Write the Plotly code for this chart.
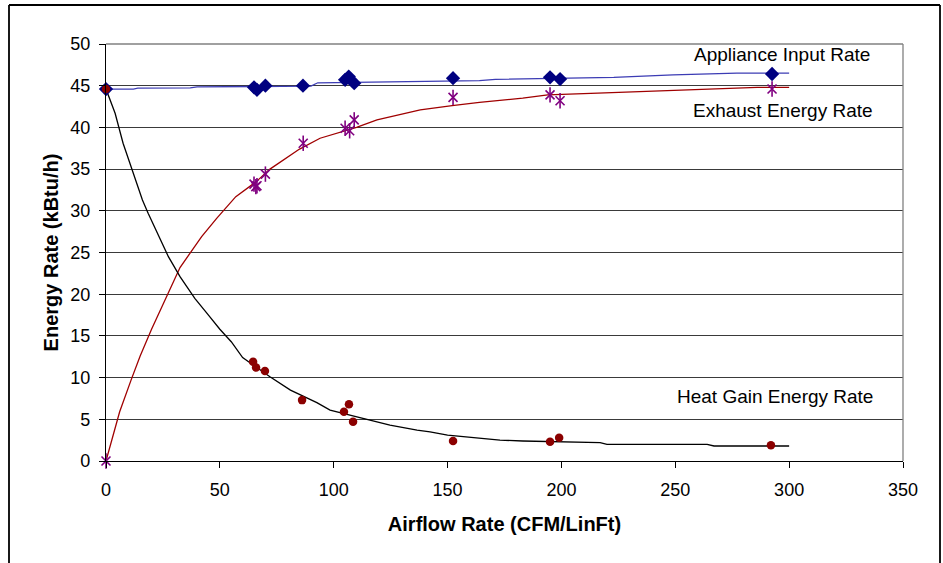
import plotly.graph_objects as go

# ---- measured points ----
app_x = [0, 65.0, 66.3, 70.0, 86.5, 105.0, 106.6, 109.0, 152.4, 195.0, 199.4, 292.5]
app_y = [44.6, 44.8, 44.5, 45.0, 45.0, 45.7, 46.1, 45.3, 45.9, 46.0, 45.8, 46.4]

exh_x = [0, 65.0, 65.8, 66.3, 70.0, 86.6, 105.0, 107.0, 109.0, 152.4, 195.0, 199.4, 292.5]
exh_y = [0.0, 33.2, 32.9, 33.0, 34.4, 38.1, 39.9, 39.6, 40.9, 43.6, 43.9, 43.2, 44.6]

heat_x = [0, 64.6, 65.9, 69.8, 86.1, 104.5, 106.7, 108.5, 152.4, 195.0, 199.0, 292.0]
heat_y = [44.6, 11.9, 11.2, 10.8, 7.3, 5.9, 6.8, 4.7, 2.4, 2.3, 2.8, 1.9]

# ---- fitted curves ----
app_fit_x = [0, 12, 14, 37, 40, 90, 93, 119, 164, 171, 223, 249, 277, 300]
app_fit_y = [44.6, 44.6, 44.7, 44.75, 44.85, 44.95, 45.35, 45.45, 45.6, 45.75, 46.0, 46.3, 46.5, 46.5]

exh_fit_x = [0, 6, 11, 15, 20, 26, 32.5, 42, 48.6, 57, 66, 72, 85, 94, 110, 119, 138, 152, 164, 183, 194, 216, 246, 264, 286, 300]
exh_fit_y = [0.0, 5.9, 9.7, 12.6, 15.8, 19.3, 23.2, 26.9, 29.1, 31.7, 33.5, 35.0, 37.4, 38.7, 40.0, 40.9, 42.1, 42.6, 43.0, 43.5, 43.9, 44.1, 44.4, 44.6, 44.8, 44.8]

heat_fit_x = [0, 4, 7.5, 12, 16, 18.5, 27.4, 32.5, 39, 45, 50, 55, 60, 72, 81, 92.6, 98.4, 111.5, 124.7, 136.6, 142.3, 150, 160, 173, 183, 217, 220, 264, 267, 300]
heat_fit_y = [44.6, 41.7, 38.1, 34.4, 31.3, 29.7, 24.5, 22.1, 19.5, 17.5, 15.8, 14.3, 12.4, 10.1, 8.5, 7.0, 6.1, 5.2, 4.3, 3.7, 3.5, 3.1, 2.8, 2.5, 2.4, 2.2, 2.0, 2.0, 1.8, 1.8]

labels = ["Appliance Input Rate", "Exhaust Energy Rate", "Heat Gain Energy Rate"]
label_x = [296.9, 297.3, 293.8]
label_y = [48.8, 42.0, 7.7]

FONT = "Liberation Sans, Arial, sans-serif"

fig = go.Figure()
fig.add_trace(go.Scatter(x=app_fit_x, y=app_fit_y, mode="lines",
                         line=dict(color="#3c3cb4", width=1.3), hoverinfo="skip"))
fig.add_trace(go.Scatter(x=exh_fit_x, y=exh_fit_y, mode="lines",
                         line=dict(color="#a00000", width=1.3), hoverinfo="skip"))
fig.add_trace(go.Scatter(x=heat_fit_x, y=heat_fit_y, mode="lines",
                         line=dict(color="#000000", width=1.3), hoverinfo="skip"))
fig.add_trace(go.Scatter(x=app_x, y=app_y, mode="markers", name="Appliance Input Rate",
                         cliponaxis=False,
                         marker=dict(symbol="diamond", size=11, color="#000080")))
fig.add_trace(go.Scatter(x=exh_x, y=exh_y, mode="markers", name="Exhaust Energy Rate",
                         cliponaxis=False,
                         marker=dict(symbol="x-thin-open", size=9, color="#800080",
                                     line=dict(color="#800080", width=1.6))))
fig.add_trace(go.Scatter(x=exh_x, y=exh_y, mode="markers", showlegend=False,
                         cliponaxis=False,
                         marker=dict(symbol="line-ns-open", size=11, color="#800080",
                                     line=dict(color="#800080", width=1.6))))
fig.add_trace(go.Scatter(x=heat_x, y=heat_y, mode="markers", name="Heat Gain Energy Rate",
                         cliponaxis=False,
                         marker=dict(symbol="circle", size=8.5, color="#8b0000")))

for t, xx, yy in zip(labels, label_x, label_y):
    fig.add_annotation(x=xx, y=yy, text=t, showarrow=False,
                       font=dict(family=FONT, size=19, color="#000000"),
                       xanchor="center", yanchor="middle")

# plot-area top/right border (gray)
fig.add_shape(type="line", xref="paper", yref="paper", x0=0, x1=1, y0=1, y1=1,
              line=dict(color="#808080", width=1.3))
fig.add_shape(type="line", xref="paper", yref="paper", x0=1, x1=1, y0=0, y1=1,
              line=dict(color="#808080", width=1.3))
# outer chart frame (cut at the bottom)
L, T, R, B = 106, 44, 903, 461
def px(xp):
    return (xp - L) / (R - L)
def py(yp):
    return (B - yp) / (B - T)
for x0, y0, x1, y1 in [(9, 5, 940, 5), (9, 5, 9, 570), (940, 5, 940, 570)]:
    fig.add_shape(type="line", xref="paper", yref="paper",
                  x0=px(x0), y0=py(y0), x1=px(x1), y1=py(y1),
                  line=dict(color="#000000", width=1.8))

fig.update_layout(
    width=943, height=563,
    margin=dict(l=L, r=943 - R, t=T, b=563 - B),
    paper_bgcolor="white", plot_bgcolor="white",
    showlegend=False,
    font=dict(family=FONT, size=18, color="#000000"),
    xaxis=dict(range=[0, 350], dtick=50, tick0=0, showgrid=False, zeroline=False,
               showline=True, linecolor="#000000", linewidth=1.3,
               ticks="outside", ticklen=6, tickcolor="#000000",
               ticklabelstandoff=6,
               tickfont=dict(family=FONT, size=18),
               title=dict(text="<b>Airflow Rate (CFM/LinFt)</b>",
                          font=dict(family=FONT, size=20), standoff=18)),
    yaxis=dict(range=[0, 50], dtick=5, tick0=0, showgrid=True, gridcolor="#3a3a3a",
               gridwidth=1, zeroline=False,
               showline=True, linecolor="#000000", linewidth=1.3,
               ticks="outside", ticklen=6, tickcolor="#000000",
               ticklabelstandoff=5,
               tickfont=dict(family=FONT, size=18),
               title=dict(text="<b>Energy Rate (kBtu/h)</b>",
                          font=dict(family=FONT, size=20), standoff=6)),
)

fig.write_html("out.html")
